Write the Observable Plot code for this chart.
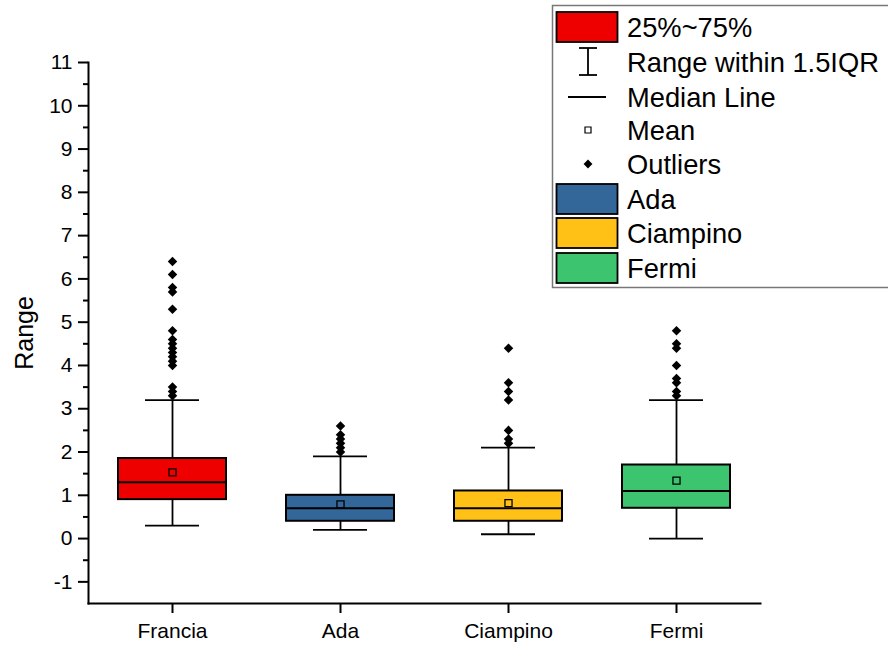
<!DOCTYPE html>
<html>
<head>
<meta charset="utf-8">
<script src="https://cdn.jsdelivr.net/npm/d3@7"></script>
<script src="https://cdn.jsdelivr.net/npm/@observablehq/plot@0.6"></script>
<style>
  html, body { margin: 0; padding: 0; background: #fff; }
  #wrap { position: relative; width: 888px; height: 645px; overflow: hidden; font-family: "Liberation Sans", Arial, sans-serif; }
  #legend { position: absolute; left: 0; top: 0; }
</style>
</head>
<body>
<div id="wrap"></div>
<script>
// ---- data ----
const categories = ["Francia", "Ada", "Ciampino", "Fermi"];
const colors = ["#EE0000", "#336699", "#FFC116", "#3CC46F"];
const whiskerLow = [0.3, 0.2, 0.1, 0.0];
const q1 = [0.9, 0.4, 0.4, 0.7];
const median = [1.3, 0.7, 0.7, 1.1];
const q3 = [1.85, 1.0, 1.1, 1.7];
const whiskerHigh = [3.2, 1.9, 2.1, 3.2];
const means = [1.53, 0.79, 0.82, 1.34];
const outliersFrancia = [3.3, 3.4, 3.5, 4.0, 4.1, 4.2, 4.3, 4.4, 4.5, 4.6, 4.8, 5.3, 5.7, 5.8, 6.1, 6.4];
const outliersAda = [2.0, 2.1, 2.2, 2.3, 2.4, 2.6];
const outliersCiampino = [2.2, 2.3, 2.5, 3.2, 3.4, 3.6, 4.4];
const outliersFermi = [3.3, 3.4, 3.6, 3.7, 4.0, 4.4, 4.5, 4.8];
const majorTicks = [-1, 0, 1, 2, 3, 4, 5, 6, 7, 8, 9, 10, 11];
const minorTicks = [-0.5, 0.5, 1.5, 2.5, 3.5, 4.5, 5.5, 6.5, 7.5, 8.5, 9.5, 10.5];
const yLabel = "Range";
const legendItems = ["25%~75%", "Range within 1.5IQR", "Median Line", "Mean", "Outliers", "Ada", "Ciampino", "Fermi"];

// ---- tables ----
const boxes = categories.map((c, i) => ({
  cat: c, wl: whiskerLow[i], q1: q1[i], med: median[i], q3: q3[i], wh: whiskerHigh[i], mean: means[i]
}));
const outlierLists = [outliersFrancia, outliersAda, outliersCiampino, outliersFermi];
const outliers = categories.flatMap((c, i) => outlierLists[i].map(v => ({cat: c, v})));

const font = "Liberation Sans, Arial, sans-serif";

const chart = Plot.plot({
  width: 888,
  height: 645,
  marginLeft: 88,
  marginRight: 128,
  marginTop: 62,
  marginBottom: 42,
  style: {fontFamily: font, fontSize: "21px", color: "black", background: "white"},
  x: {domain: categories, paddingInner: 0.36, paddingOuter: 0.18, label: null},
  y: {domain: [-1.5, 11], label: null},
  color: {domain: categories, range: colors},
  marks: [
    Plot.ruleX(boxes, {x: "cat", y1: "wl", y2: "q1", stroke: "black", strokeWidth: 1.8}),
    Plot.ruleX(boxes, {x: "cat", y1: "q3", y2: "wh", stroke: "black", strokeWidth: 1.8}),
    Plot.tickY(boxes, {x: "cat", y: "wl", inset: 27, stroke: "black", strokeWidth: 1.8}),
    Plot.tickY(boxes, {x: "cat", y: "wh", inset: 27, stroke: "black", strokeWidth: 1.8}),
    Plot.barY(boxes, {x: "cat", y1: "q1", y2: "q3", fill: "cat", stroke: "black", strokeWidth: 2}),
    Plot.tickY(boxes, {x: "cat", y: "med", stroke: "black", strokeWidth: 2}),
    Plot.dot(boxes, {x: "cat", y: "mean", symbol: "square", r: 4, stroke: "black", fill: "none", strokeWidth: 1.3}),
    Plot.dot(outliers, {x: "cat", y: "v", symbol: "diamond2", r: 4.3, fill: "black", stroke: "none"}),
    Plot.axisY(majorTicks, {tickSize: 10, tickPadding: 6, fontSize: 21, label: null, strokeWidth: 2, tickFormat: d => String(d)}),
    Plot.axisY(minorTicks, {tickSize: 5, tickFormat: () => "", label: null, strokeWidth: 2}),
    Plot.axisX({tickSize: 10, tickPadding: 10, fontSize: 21, label: null, strokeWidth: 2}),
    Plot.frame({anchor: "left", stroke: "black", strokeWidth: 2}),
    Plot.frame({anchor: "bottom", stroke: "black", strokeWidth: 2}),
    Plot.text([yLabel], {frameAnchor: "left", textAnchor: "middle", rotate: -90, dx: -64, fontSize: 25, fill: "black"})
  ]
});
document.getElementById("wrap").appendChild(chart);

// ---- legend (overlay) ----
const svg = d3.select("#wrap").append("svg")
  .attr("id", "legend").attr("width", 888).attr("height", 645)
  .style("pointer-events", "none");
const lg = svg.append("g");
lg.append("rect").attr("x", 552.5).attr("y", 5.5).attr("width", 400).attr("height", 282)
  .attr("fill", "white").attr("stroke", "#777").attr("stroke-width", 1.5);
const rowY = [27, 62, 97, 130, 164, 199, 233, 268];
const iconX = 588;
const swatchColors = [colors[0], null, null, null, null, colors[1], colors[2], colors[3]];
legendItems.forEach((t, i) => {
  const y = rowY[i];
  if (swatchColors[i]) {
    lg.append("rect").attr("x", 556.5).attr("y", y - 15).attr("width", 61).attr("height", 30)
      .attr("fill", swatchColors[i]).attr("stroke", "black").attr("stroke-width", 1.8);
  }
  lg.append("text").attr("x", 627).attr("y", y).attr("dy", "0.35em")
    .attr("font-family", font).attr("font-size", 27.3).attr("fill", "black").text(t);
});
// whisker icon
lg.append("line").attr("x1", iconX).attr("x2", iconX).attr("y1", 48).attr("y2", 75).attr("stroke", "black").attr("stroke-width", 1.8);
lg.append("line").attr("x1", iconX - 9).attr("x2", iconX + 9).attr("y1", 48).attr("y2", 48).attr("stroke", "black").attr("stroke-width", 1.8);
lg.append("line").attr("x1", iconX - 9).attr("x2", iconX + 9).attr("y1", 75).attr("y2", 75).attr("stroke", "black").attr("stroke-width", 1.8);
// median line icon
lg.append("line").attr("x1", 568).attr("x2", 606).attr("y1", 97).attr("y2", 97).attr("stroke", "black").attr("stroke-width", 1.8);
// mean icon
lg.append("path").attr("d", d3.symbol(d3.symbolSquare, 36)()).attr("transform", `translate(${iconX},130)`)
  .attr("fill", "white").attr("stroke", "black").attr("stroke-width", 1.2);
// outlier icon
lg.append("path").attr("d", d3.symbol(d3.symbolDiamond2, 50)()).attr("transform", `translate(${iconX},164)`)
  .attr("fill", "black");
</script>
</body>
</html>
